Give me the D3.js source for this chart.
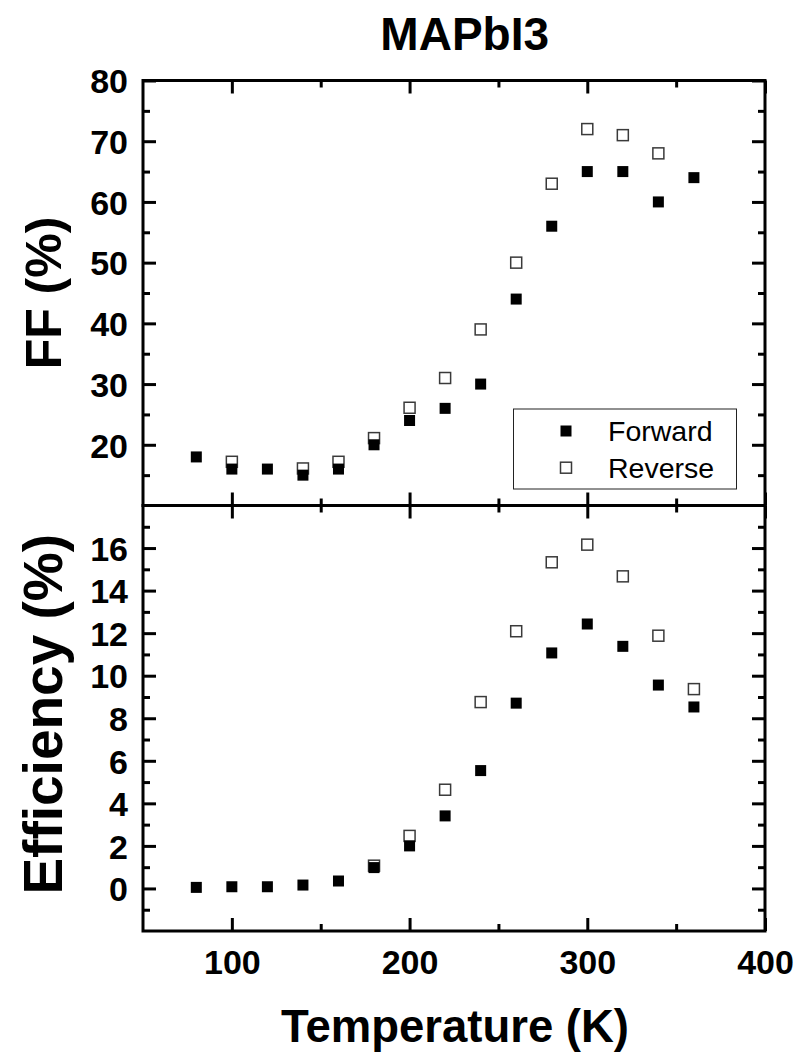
<!DOCTYPE html>
<html>
<head>
<meta charset="utf-8">
<script src="https://cdn.jsdelivr.net/npm/d3@7"></script>
<style>
  html, body { margin: 0; padding: 0; background: #fff; }
  svg { display: block; }
  text { font-family: "Liberation Sans", Arial, sans-serif; fill: #000; }
</style>
</head>
<body>
<svg id="chart" width="808" height="1060"></svg>
<script>
// Temperature sweep (K)
const temps = [80, 100, 120, 140, 160, 180, 200, 220, 240, 260, 280, 300, 320, 340, 360];

// Fill factor (%)
const ffForward = [18, 16, 16, 15, 16, 20, 24, 26, 30, 44, 56, 65, 65, 60, 64];
const ffReverse = [null, 17.2, null, 16.1, 17.2, 21.1, 26.1, 31, 39, 50, 63, 72, 71, 68, null];

// Power conversion efficiency (%)
const effForward = [0.05, 0.08, 0.08, 0.16, 0.35, 0.98, 2.0, 3.41, 5.54, 8.71, 11.07, 12.43, 11.38, 9.56, 8.53];
const effReverse = [null, null, null, null, null, 1.07, 2.47, 4.64, 8.76, 12.09, 15.33, 16.16, 14.67, 11.88, 9.37];

// Axis ticks
const xMajor = [100, 200, 300, 400];
const xMinor = [150, 250, 350];
const ffMajor = [20, 30, 40, 50, 60, 70, 80];
const ffMinor = [15, 25, 35, 45, 55, 65, 75];
const effMajor = [0, 2, 4, 6, 8, 10, 12, 14, 16];
const effMinor = [-1, 1, 3, 5, 7, 9, 11, 13, 15, 17];

const seriesNames = ["Forward", "Reverse"];

const svg = d3.select("#chart");

const left = 143, right = 765;
const ffTop = 80.5, ffBottom = 505.5;
const effTop = 505.5, effBottom = 931;

const x = d3.scaleLinear().domain([50, 400]).range([left, right]);
const yFF = d3.scaleLinear().domain([10, 80]).range([ffBottom, ffTop]);
const yEff = d3.scaleLinear().domain([-2, 18]).range([effBottom, effTop]);

const MAJOR = 13, MINOR = 7, AXW = 3;
const TICK_FONT = 34;

function styleAxis(g) {
  g.select(".domain").remove();
  g.selectAll(".tick line").attr("stroke", "#000").attr("stroke-width", AXW);
}

function drawPanel(y, top, bottom, major, minor, showX) {
  const p = svg.append("g");

  // left axis with labels
  const gl = p.append("g").attr("transform", `translate(${left},0)`)
    .call(d3.axisLeft(y).tickValues(major).tickSizeInner(-MAJOR).tickSizeOuter(0).tickPadding(15).tickFormat(d3.format("d")));
  styleAxis(gl);
  gl.selectAll(".tick text").attr("font-size", TICK_FONT).attr("font-weight", "bold").attr("dy", "0.36em");
  p.append("g").attr("transform", `translate(${left},0)`)
    .call(d3.axisLeft(y).tickValues(minor).tickSizeInner(-MINOR).tickSizeOuter(0).tickFormat(""))
    .call(styleAxis);

  // right axis
  p.append("g").attr("transform", `translate(${right},0)`)
    .call(d3.axisRight(y).tickValues(major).tickSizeInner(-MAJOR).tickSizeOuter(0).tickFormat(""))
    .call(styleAxis);
  p.append("g").attr("transform", `translate(${right},0)`)
    .call(d3.axisRight(y).tickValues(minor).tickSizeInner(-MINOR).tickSizeOuter(0).tickFormat(""))
    .call(styleAxis);

  // top axis
  p.append("g").attr("transform", `translate(0,${top})`)
    .call(d3.axisTop(x).tickValues(xMajor).tickSizeInner(-MAJOR).tickSizeOuter(0).tickFormat(""))
    .call(styleAxis);
  p.append("g").attr("transform", `translate(0,${top})`)
    .call(d3.axisTop(x).tickValues(xMinor).tickSizeInner(-MINOR).tickSizeOuter(0).tickFormat(""))
    .call(styleAxis);

  // bottom axis
  const gb = p.append("g").attr("transform", `translate(0,${bottom})`)
    .call(d3.axisBottom(x).tickValues(xMajor).tickSizeInner(-MAJOR).tickSizeOuter(0).tickPadding(19)
      .tickFormat(showX ? d3.format("d") : ""));
  styleAxis(gb);
  if (showX) {
    gb.selectAll(".tick text").attr("font-size", TICK_FONT).attr("font-weight", "bold");
  }
  p.append("g").attr("transform", `translate(0,${bottom})`)
    .call(d3.axisBottom(x).tickValues(xMinor).tickSizeInner(-MINOR).tickSizeOuter(0).tickFormat(""))
    .call(styleAxis);

  // frame
  p.append("rect")
    .attr("x", left).attr("y", top)
    .attr("width", right - left).attr("height", bottom - top)
    .attr("fill", "none").attr("stroke", "#000").attr("stroke-width", AXW);
  return p;
}

const M = 11; // marker edge

function drawSeries(y, values, filled) {
  const pts = temps.map((t, i) => ({ t, v: values[i] })).filter(d => d.v != null);
  svg.append("g").selectAll("rect")
    .data(pts)
    .join("rect")
    .attr("x", d => x(d.t) - M / 2)
    .attr("y", d => y(d.v) - M / 2)
    .attr("width", M).attr("height", M)
    .attr("fill", filled ? "#000" : "#fff")
    .attr("stroke", filled ? "#000" : "#3a3a3a")
    .attr("stroke-width", filled ? 0 : 1.5);
}

drawPanel(yFF, ffTop, ffBottom, ffMajor, ffMinor, false);
drawPanel(yEff, effTop, effBottom, effMajor, effMinor, true);

// reverse first, forward drawn on top
drawSeries(yFF, ffReverse, false);
drawSeries(yFF, ffForward, true);
drawSeries(yEff, effReverse, false);
drawSeries(yEff, effForward, true);

// legend
const lg = svg.append("g");
lg.append("rect")
  .attr("x", 513.5).attr("y", 409).attr("width", 223).attr("height", 80)
  .attr("fill", "#fff").attr("stroke", "#222").attr("stroke-width", 1);
seriesNames.forEach((name, i) => {
  const cy = 431 + i * 36.7;
  lg.append("rect")
    .attr("x", 566 - M / 2).attr("y", cy - M / 2).attr("width", M).attr("height", M)
    .attr("fill", i === 0 ? "#000" : "#fff")
    .attr("stroke", i === 0 ? "#000" : "#3a3a3a")
    .attr("stroke-width", i === 0 ? 0 : 1.5);
  lg.append("text")
    .attr("x", 608).attr("y", cy + 10)
    .attr("font-size", 28.5)
    .text(name);
});

// titles
svg.append("text")
  .attr("x", 464.7).attr("y", 50)
  .attr("text-anchor", "middle").attr("font-size", 46).attr("font-weight", "bold")
  .text("MAPbI3");

svg.append("text")
  .attr("x", 455).attr("y", 1042)
  .attr("text-anchor", "middle").attr("font-size", 45.5).attr("font-weight", "bold")
  .text("Temperature (K)");

svg.append("text")
  .attr("transform", `translate(61,${(ffTop + ffBottom) / 2}) rotate(-90)`)
  .attr("text-anchor", "middle").attr("font-size", 50).attr("font-weight", "bold")
  .text("FF (%)");

svg.append("text")
  .attr("transform", `translate(62,${(effTop + effBottom) / 2 - 4}) rotate(-90)`)
  .attr("text-anchor", "middle").attr("font-size", 55).attr("font-weight", "bold")
  .text("Efficiency (%)");
</script>
</body>
</html>
